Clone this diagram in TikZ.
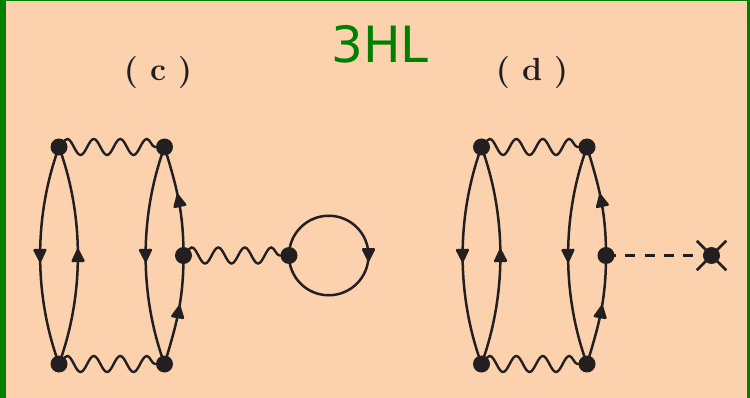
\documentclass[tikz,border=0pt]{standalone}
\usepackage{fontspec}
\newfontfamily\titlefont{DejaVu Sans}
\usetikzlibrary{arrows.meta,decorations.markings,decorations.pathmorphing,shapes.misc}
\definecolor{bgpeach}{HTML}{FCD1AE}
\definecolor{ink}{HTML}{231F20}
\definecolor{framegreen}{HTML}{008000}
\tikzset{
  vertex/.style={circle,fill=ink,draw=none,minimum size=17pt,inner sep=0pt},
  line/.style={draw=ink,line width=2.5pt},
  fermion/.style={line,postaction={decorate},decoration={markings,mark=at position #1 with {\arrow{Triangle[width=14pt,length=15pt,round=false]}}}},
  fermion/.default=0.53,
  photon/.style={draw=ink,line width=2.4pt,decorate,decoration={snake,segment length=26.5pt,amplitude=8pt,pre length=0pt,post length=0pt}},
  higgs/.style={line,dash pattern=on 10pt off 9.3pt},
  crossmark/.style={cross out,draw=ink,line width=2.5pt,minimum size=27pt,inner sep=0pt},
  caption/.style={text=ink,font=\fontsize{32}{36}\selectfont\bfseries,inner sep=0pt}
}
\begin{document}
\begin{tikzpicture}[x=1pt,y=-1pt]
\useasboundingbox (0,0) rectangle (750,398);
\fill[bgpeach] (0,0) rectangle (750,398);
\fill[framegreen] (0,0) rectangle (6,398);
\fill[framegreen] (746.5,0) rectangle (750,398);
\fill[framegreen] (0,0) rectangle (750,1);
\node[text=framegreen,font=\titlefont\fontsize{50}{60}\selectfont,inner sep=0pt] (title) at (380,44) {3HL};
\node[caption] (capc) at (158,73) {( c )};
\node[caption] (capd) at (532,73) {( d )};
% diagram c
\node[vertex] (a1) at (59,147) {};
\node[vertex] (a2) at (164.5,147) {};
\node[vertex] (a3) at (59,364) {};
\node[vertex] (a4) at (164.5,364) {};
\node[vertex] (a5) at (183.5,255.5) {};
\node[vertex] (a6) at (289,255.5) {};
\coordinate (a7) at (368.5,255.5);
\draw[fermion] (a1.center) to[bend right=20,looseness=.87] (a3.center);
\draw[fermion] (a3.center) to[bend right=20,looseness=.87] (a1.center);
\draw[fermion] (a2.center) to[bend right=20,looseness=.87] (a4.center);
\draw[fermion=0.56] (a5.center) to[out=90,in=-73] (a2.center);
\draw[fermion=0.55] (a4.center) to[out=73,in=-90] (a5.center);
\draw[photon] (a1.center) -- (a2.center);
\draw[photon] (a3.center) -- (a4.center);
\draw[photon] (a5.center) -- (a6.center);
\draw[line] (a6.center) arc[start angle=180,end angle=0,radius=39.75pt];
\draw[line] (a7) arc[start angle=0,end angle=-180,radius=39.75pt];
\draw[fermion=0.99] (a7) ++(0,-6) -- ++(0,12);
% diagram d
\node[vertex] (b1) at (481.5,147) {};
\node[vertex] (b2) at (587,147) {};
\node[vertex] (b3) at (481.5,364) {};
\node[vertex] (b4) at (587,364) {};
\node[vertex] (b5) at (606,255.5) {};
\node[crossmark] (x) at (711.5,255.5) {};
\node[vertex] (b6) at (711.5,255.5) {};
\draw[fermion] (b1.center) to[bend right=20,looseness=.87] (b3.center);
\draw[fermion] (b3.center) to[bend right=20,looseness=.87] (b1.center);
\draw[fermion] (b2.center) to[bend right=20,looseness=.87] (b4.center);
\draw[fermion=0.56] (b5.center) to[out=90,in=-73] (b2.center);
\draw[fermion=0.55] (b4.center) to[out=73,in=-90] (b5.center);
\draw[photon] (b1.center) -- (b2.center);
\draw[photon] (b3.center) -- (b4.center);
\draw[higgs] (b5.center) -- (b6.center);
\end{tikzpicture}
\end{document}
